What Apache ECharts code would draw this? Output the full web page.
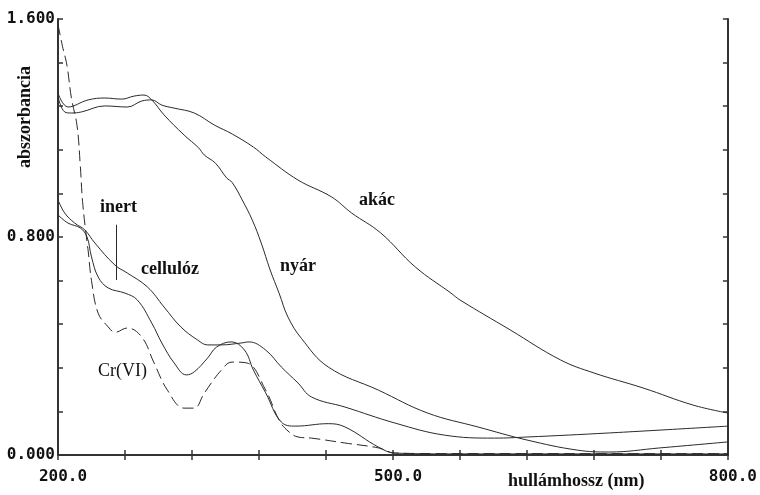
<!DOCTYPE html>
<html>
<head>
<meta charset="utf-8">
<title>abszorbancia</title>
<script src="https://cdn.jsdelivr.net/npm/echarts@6/dist/echarts.min.js"></script>
<style>
  html, body { margin: 0; padding: 0; background: #fff; }
  #main { width: 760px; height: 495px; }
</style>
</head>
<body>
<div id="main"></div>
<script>
// hullámhossz (nm) es abszorbancia ertekek, a kepről leolvasva
var akacX = [200, 206, 212, 221, 242, 262, 275, 284, 293, 304, 322, 340, 356, 375, 386, 415, 445, 463, 489, 520, 552, 560, 605, 650, 680, 724, 769, 800];
var akacY = [1.314, 1.259, 1.255, 1.259, 1.281, 1.277, 1.299, 1.303, 1.284, 1.273, 1.255, 1.211, 1.178, 1.13, 1.094, 1.009, 0.947, 0.888, 0.815, 0.69, 0.594, 0.569, 0.459, 0.349, 0.301, 0.246, 0.183, 0.154];

var nyarX = [200, 209, 227, 242, 257, 268, 277, 284, 295, 313, 326, 331, 341, 351, 356, 365, 374, 382, 390, 398, 406, 418, 442, 487, 531, 576, 620, 665, 694, 739, 800];
var nyarY = [1.328, 1.277, 1.303, 1.31, 1.306, 1.317, 1.321, 1.303, 1.248, 1.174, 1.127, 1.101, 1.071, 1.017, 1.0, 0.936, 0.862, 0.778, 0.679, 0.594, 0.506, 0.428, 0.323, 0.238, 0.154, 0.103, 0.055, 0.018, 0.011, 0.026, 0.048];

var cellX = [200, 206, 215, 224, 233, 251, 262, 280, 295, 310, 325, 334, 346, 364, 371, 386, 400, 415, 427, 457, 502, 546, 591, 620, 694, 800];
var cellY = [0.936, 0.888, 0.851, 0.826, 0.778, 0.697, 0.668, 0.617, 0.543, 0.47, 0.422, 0.404, 0.404, 0.411, 0.415, 0.385, 0.323, 0.264, 0.213, 0.176, 0.117, 0.073, 0.062, 0.066, 0.081, 0.106];

var inertX = [200, 209, 220, 226, 230, 236, 245, 260, 271, 284, 293, 304, 315, 322, 334, 342, 355, 367, 375, 386, 400, 413, 442, 457, 487, 502, 550, 800];
var inertY = [0.881, 0.851, 0.833, 0.8, 0.727, 0.653, 0.613, 0.594, 0.569, 0.484, 0.411, 0.338, 0.294, 0.305, 0.356, 0.396, 0.415, 0.385, 0.312, 0.228, 0.121, 0.106, 0.115, 0.103, 0.029, 0.007, 0.004, 0.004];

var crX = [200, 204, 208, 212, 217, 220, 222, 226, 227, 230, 236, 245, 251, 262, 275, 286, 298, 313, 322, 331, 346, 356, 369, 386, 398, 406, 415, 427, 457, 487, 502, 550, 800];
var crY = [1.58, 1.50, 1.43, 1.31, 1.21, 1.06, 0.93, 0.78, 0.75, 0.64, 0.52, 0.47, 0.45, 0.466, 0.433, 0.338, 0.238, 0.172, 0.172, 0.227, 0.31, 0.341, 0.338, 0.238, 0.128, 0.088, 0.066, 0.062, 0.044, 0.026, 0.007, 0.005, 0.005];

// tengelyek
var xMin = 200, xMax = 800, xStep = 60;
var yMin = 0, yMax = 1.6, yStep = 0.16;
var xLabelVals = [200, 500, 800];
var yLabelVals = [0, 0.8, 1.6];

// az "inert" felirat mutatovonala
var inertPointer = [[252, 0.845], [252, 0.642]];

function pairs(xs, ys) {
	var out = [];
	for (var i = 0; i < xs.length; i++) {
		out.push([xs[i], ys[i]]);
	}
	return out;
}

function isLabel(v, list) {
	for (var i = 0; i < list.length; i++) {
		if (Math.abs(v - list[i]) < 1e-6) return true;
	}
	return false;
}

var lineCol = '#2a2a2a';
var axisCol = '#333';
var tickFont = 'DejaVu Sans Mono';

function curve(name, xs, ys, dashed) {
	return {
		name: name,
		type: 'line',
		data: pairs(xs, ys),
		showSymbol: false,
		smooth: 0.4,
		lineStyle: { color: lineCol, width: 1, type: dashed ? [11, 5] : 'solid' },
		silent: true
	};
}

var axisBase = {
	type: 'value',
	axisLine: { show: true, lineStyle: { color: axisCol, width: 2 } },
	axisTick: { show: true, inside: true, length: 5, lineStyle: { color: axisCol, width: 1.5 } },
	splitLine: { show: false }
};

var myChart = echarts.init(document.getElementById('main'), null, { renderer: 'canvas' });

var inertSeries = curve('inert', inertX, inertY, false);
inertSeries.markLine = {
	silent: true,
	symbol: 'none',
	label: { show: false },
	lineStyle: { color: lineCol, width: 1, type: 'solid' },
	data: [[{ coord: inertPointer[0] }, { coord: inertPointer[1] }]]
};

var option = {
	animation: false,
	backgroundColor: '#fff',
	grid: { left: 58, right: 28, top: 19, bottom: 40, containLabel: false },
	xAxis: [
		Object.assign({}, axisBase, {
			position: 'bottom', min: xMin, max: xMax, interval: xStep,
			axisLabel: {
				show: true, margin: 14, padding: [0, 0, 0, 10],
				color: '#111', fontFamily: tickFont, fontWeight: 'bold', fontSize: 16,
				formatter: function (v) { return isLabel(v, xLabelVals) ? v.toFixed(1) : ''; }
			}
		}),
		Object.assign({}, axisBase, {
			position: 'top', min: xMin, max: xMax, interval: xStep,
			axisLabel: { show: false }
		})
	],
	yAxis: [
		Object.assign({}, axisBase, {
			position: 'left', min: yMin, max: yMax, interval: yStep,
			axisLabel: {
				show: true, margin: 3,
				color: '#111', fontFamily: tickFont, fontWeight: 'bold', fontSize: 16,
				formatter: function (v) { return isLabel(v, yLabelVals) ? v.toFixed(3) : ''; }
			}
		}),
		Object.assign({}, axisBase, {
			position: 'right', min: yMin, max: yMax, interval: yStep,
			axisLabel: { show: false }
		})
	],
	series: [
		curve('akác', akacX, akacY, false),
		curve('nyár', nyarX, nyarY, false),
		curve('cellulóz', cellX, cellY, false),
		inertSeries,
		curve('Cr(VI)', crX, crY, true)
	],
	graphic: [
		{ type: 'text', x: 508, y: 481, style: { text: 'hullámhossz (nm)', font: 'bold 18px "Liberation Serif"', fill: '#111', textAlign: 'left', textVerticalAlign: 'middle' } },
		{ type: 'text', x: 25, y: 117, rotation: Math.PI / 2, style: { text: 'abszorbancia', font: 'bold 18px "Liberation Serif"', fill: '#111', textAlign: 'center', textVerticalAlign: 'middle' } },
		{ type: 'text', x: 100, y: 207, style: { text: 'inert', font: 'bold 18px "Liberation Serif"', fill: '#111', textAlign: 'left', textVerticalAlign: 'middle' } },
		{ type: 'text', x: 141, y: 269, style: { text: 'cellulóz', font: 'bold 18px "Liberation Serif"', fill: '#111', textAlign: 'left', textVerticalAlign: 'middle' } },
		{ type: 'text', x: 280, y: 266, style: { text: 'nyár', font: 'bold 18px "Liberation Serif"', fill: '#111', textAlign: 'left', textVerticalAlign: 'middle' } },
		{ type: 'text', x: 359, y: 200, style: { text: 'akác', font: 'bold 18px "Liberation Serif"', fill: '#111', textAlign: 'left', textVerticalAlign: 'middle' } },
		{ type: 'text', x: 98, y: 371, style: { text: 'Cr(VI)', font: '18px "Liberation Serif"', fill: '#111', textAlign: 'left', textVerticalAlign: 'middle' } }
	]
};

myChart.setOption(option);
</script>
</body>
</html>
